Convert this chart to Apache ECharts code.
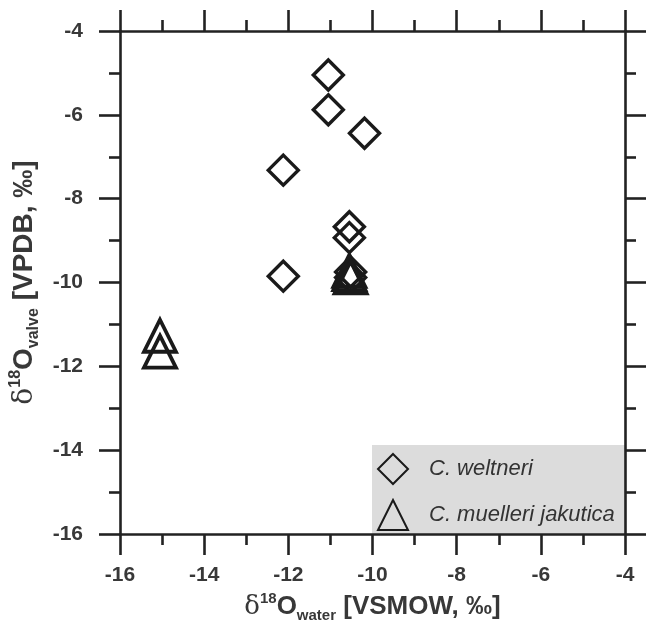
<!DOCTYPE html>
<html>
<head>
<meta charset="utf-8">
<script src="https://cdn.jsdelivr.net/npm/echarts@6/dist/echarts.min.js"></script>
<style>html,body{margin:0;padding:0;background:#fff;}#chart{width:651px;height:622px;}</style>
</head>
<body>
<div id="chart"></div>
<script>
// ---- data ----
const xTickLabels = [-16, -14, -12, -10, -8, -6, -4];
const yTickLabels = [-16, -14, -12, -10, -8, -6, -4];
const seriesNames = ['C. weltneri', 'C. muelleri jakutica'];
const weltneriX = [-11.05, -11.05, -10.19, -12.12, -12.12, -10.55, -10.55, -10.52, -10.52];
const weltneriY = [-5.05, -5.88, -6.44, -7.32, -9.85, -8.67, -8.93, -9.75, -9.88];
const muelleriX = [-15.05, -15.05, -10.55, -10.55, -10.52];
const muelleriY = [-11.27, -11.65, -9.72, -9.8, -9.88];

const pairs = (xs, ys) => xs.map((x, i) => [x, ys[i]]);
const axisCol = '#222';
const labelCol = '#383838';
const font = '"Liberation Sans", Arial, sans-serif';

const chart = echarts.init(document.getElementById('chart'), null, {renderer: 'canvas'});

const baseAxis = {
  min: -16, max: -4, interval: 2,
  axisLine: {show: true, onZero: false, lineStyle: {color: axisCol, width: 2.6}},
  axisTick: {show: true, inside: false, length: 21, lineStyle: {color: axisCol, width: 2.6}},
  minorTick: {show: true, splitNumber: 2, length: 11, lineStyle: {color: axisCol, width: 2.6}},
  splitLine: {show: false}
};

function titleRich(size) {
  const sm = Math.round(size * 0.56);
  return {
    d: {fontSize: size, fontFamily: '"DejaVu Serif", serif', color: labelCol, lineHeight: size + 6},
    sup: {fontSize: sm, fontWeight: 'bold', fontFamily: font, color: labelCol, verticalAlign: 'top', lineHeight: sm},
    b: {fontSize: size, fontWeight: 'bold', fontFamily: font, color: labelCol, lineHeight: size + 6},
    sub: {fontSize: sm, fontWeight: 'bold', fontFamily: font, color: labelCol, verticalAlign: 'bottom', lineHeight: sm}
  };
}

const option = {
  animation: false,
  backgroundColor: '#fff',
  grid: {left: 120, top: 31, right: 26, bottom: 88, containLabel: false, outerBoundsMode: 'none'},
  graphic: {elements: [{type: 'rect', left: 372, top: 445, z: -10,
    shape: {width: 253, height: 89}, style: {fill: '#dcdcdc'}}]},
  xAxis: [
    Object.assign({}, baseAxis, {
      type: 'value', position: 'bottom',
      axisLabel: {show: true, margin: 31, color: labelCol, fontSize: 21, fontWeight: 'bold', fontFamily: font,
        formatter: v => xTickLabels.includes(v) ? String(v) : ''},
      name: '{d|δ}{sup|18}{b|O}{sub|water}{b| [VSMOW, ‰]}',
      nameLocation: 'middle', nameGap: 57,
      nameTextStyle: {rich: titleRich(26)}
    }),
    Object.assign({}, baseAxis, {
      type: 'value', position: 'top', axisLabel: {show: false}
    })
  ],
  yAxis: [
    Object.assign({}, baseAxis, {
      type: 'value', position: 'left',
      axisLabel: {show: true, margin: 37, color: labelCol, fontSize: 21, fontWeight: 'bold', fontFamily: font,
        formatter: v => yTickLabels.includes(v) ? String(v) : ''},
      name: '{d|δ}{sup|18}{b|O}{sub|valve}{b| [VPDB, ‰]}',
      nameLocation: 'middle', nameGap: 71, nameRotate: 90,
      nameTextStyle: {rich: titleRich(28)}
    }),
    Object.assign({}, baseAxis, {
      type: 'value', position: 'right', axisLabel: {show: false}
    })
  ],
  legend: {
    show: true, orient: 'vertical', left: 377, top: 453, padding: 0,
    itemWidth: 30, itemHeight: 30, itemGap: 14,
    textStyle: {fontSize: 22, fontStyle: 'italic', color: '#333', fontFamily: font, padding: [0, 0, 0, 16]},
    data: seriesNames
  },
  series: [
    {name: seriesNames[0], type: 'scatter', symbol: 'diamond', symbolSize: 30,
     data: pairs(weltneriX, weltneriY),
     itemStyle: {color: 'rgba(255,255,255,0)', borderColor: '#1a1a1a', borderWidth: 3.4, opacity: 1}},
    {name: seriesNames[1], type: 'scatter', symbol: 'triangle', symbolSize: 32,
     data: pairs(muelleriX, muelleriY),
     itemStyle: {color: 'rgba(255,255,255,0)', borderColor: '#1a1a1a', borderWidth: 3.8, opacity: 1}}
  ]
};
chart.setOption(option);
</script>
</body>
</html>
